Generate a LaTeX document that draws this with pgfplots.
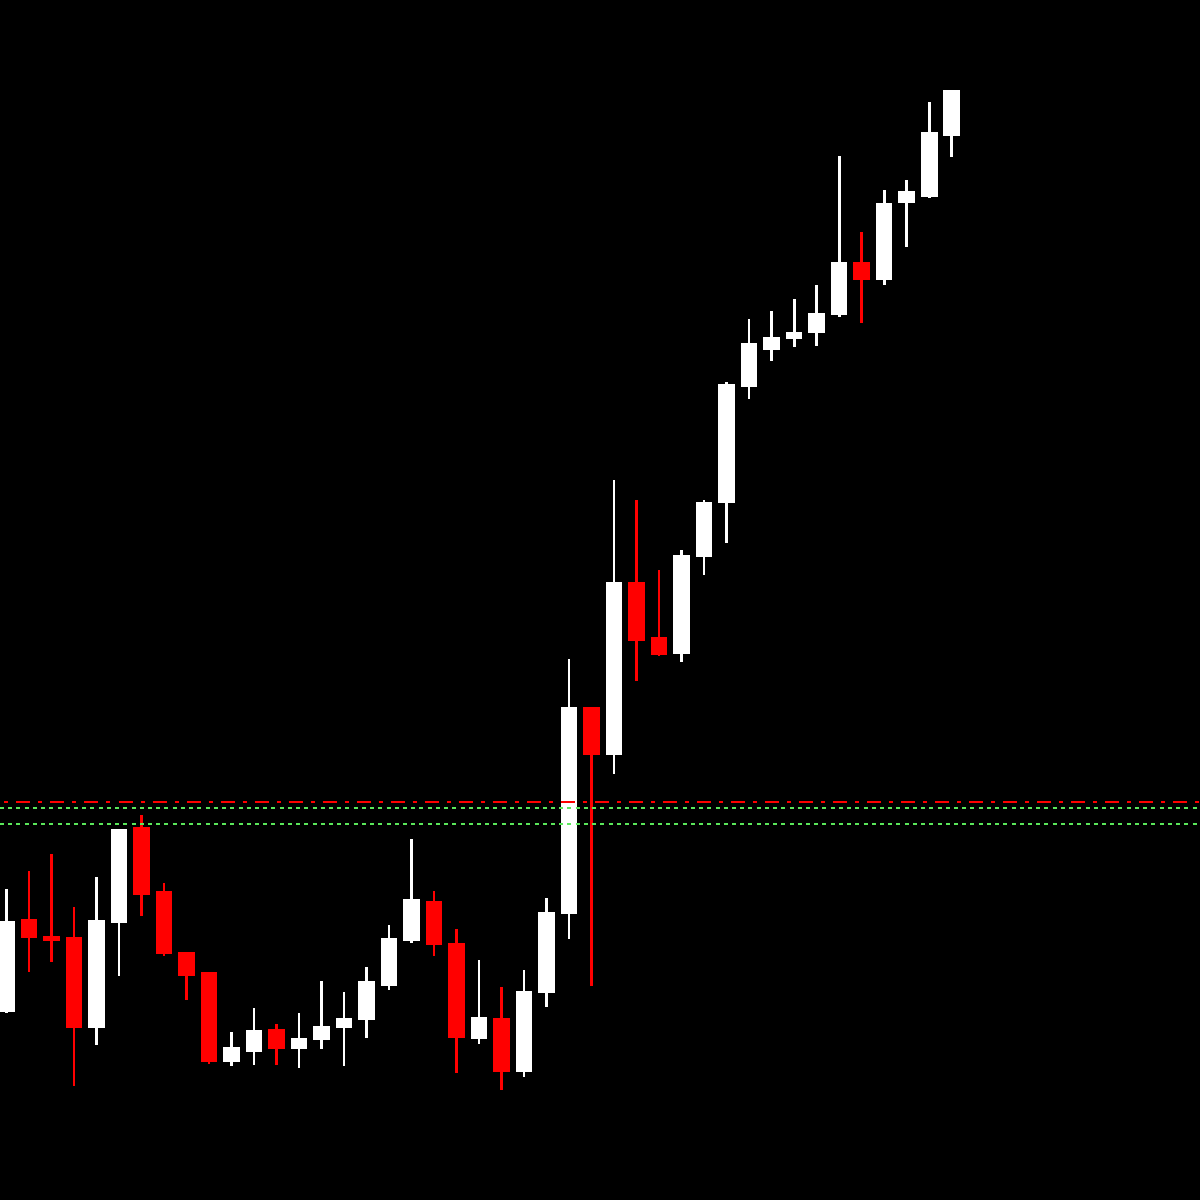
\documentclass[border=0pt]{standalone}
\usepackage{pgfplots}
\usepackage{pgfplotstable}
\pgfplotsset{compat=1.18}
\definecolor{lvl}{RGB}{90,230,90}
% candles: x open high low close (price units)
\pgfplotstableread{
x o h l c
0 188 311 187 279
4 172 323 155 280
5 277 371 224 371
10 138 168 134 153
11 148 192 135 170
13 151 187 132 162
14 160 219 151 174
15 172 208 134 182
16 180 233 162 219
17 214 275 210 262
18 259 361 257 301
21 161 240 156 183
23 128 230 123 209
24 207 302 193 288
25 286 541 261 493
27 445 720 426 618
30 546 650 538 645
31 643 700 625 698
32 697 818 657 816
33 813 881 801 857
34 850 889 839 863
35 861 901 853 868
36 867 915 854 887
37 885 1044 883 938
39 920 1010 915 997
40 997 1020 953 1009
41 1003 1098 1002 1068
42 1064 1110 1043 1110
}\bull
\pgfplotstableread{
x o h l c
1 281 329 228 262
2 264 346 238 259
3 263 293 114 172
6 373 385 284 305
7 309 317 244 246
8 248 248 200 224
9 228 228 136 138
12 171 176 135 151
19 299 309 244 255
20 257 271 127 162
22 182 213 110 128
26 493 493 214 445
28 618 700 519 559
29 563 630 544 545
38 938 968 877 920
}\bear
\begin{document}
\begin{tikzpicture}
\path[use as bounding box] (0,0) rectangle (12cm,12cm);
\fill[black] (-2pt,-2pt) rectangle ([shift={(2pt,2pt)}]12cm,12cm);
\begin{axis}[
  at={(0,0)}, anchor=south west,
  width=12cm, height=12cm, scale only axis,
  xmin=-0.284, xmax=53.03, ymin=0, ymax=1200,
  axis lines=none, ticks=none,
  clip=true,
  every axis plot/.append style={mark=none},
]
% wicks
\addplot[draw=none, mark=none, forget plot,
  error bars/.cd, y dir=both, y explicit, error mark=none,
  error bar style={draw=white, solid, line width=0.75pt}]
  table[x=x, y expr={(\thisrow{h}+\thisrow{l})/2}, y error expr={(\thisrow{h}-\thisrow{l})/2}] {\bull};
\addplot[draw=none, mark=none, forget plot,
  error bars/.cd, y dir=both, y explicit, error mark=none,
  error bar style={draw=red, solid, line width=0.75pt}]
  table[x=x, y expr={(\thisrow{h}+\thisrow{l})/2}, y error expr={(\thisrow{h}-\thisrow{l})/2}] {\bear};
% bodies
\addplot[draw=none, mark=none, forget plot,
  error bars/.cd, y dir=both, y explicit, error mark=none,
  error bar style={draw=white, solid, line width=4.7pt}]
  table[x=x, y expr={(\thisrow{o}+\thisrow{c})/2}, y error expr={abs(\thisrow{c}-\thisrow{o})/2}] {\bull};
\addplot[draw=none, mark=none, forget plot,
  error bars/.cd, y dir=both, y explicit, error mark=none,
  error bar style={draw=red, solid, line width=4.7pt}]
  table[x=x, y expr={(\thisrow{o}+\thisrow{c})/2}, y error expr={abs(\thisrow{c}-\thisrow{o})/2}] {\bear};
% level lines
\addplot[red, line width=0.85pt, dash pattern=on 3.98pt off 2.28pt on 1.14pt off 2.28pt, dash phase=5pt]
  coordinates {(-0.284,398) (53.03,398)};
\addplot[lvl, line width=0.6pt, dash pattern=on 1.14pt off 1.2pt]
  coordinates {(-0.284,392.3) (53.03,392.3)};
\addplot[lvl, line width=0.6pt, dash pattern=on 1.14pt off 1.2pt]
  coordinates {(-0.284,376.3) (53.03,376.3)};
\end{axis}
\end{tikzpicture}
\end{document}
